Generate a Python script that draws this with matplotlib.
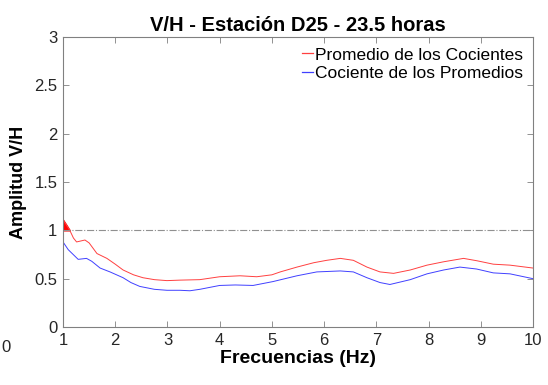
import matplotlib.pyplot as plt
import numpy as np

plt.rcParams['font.family'] = ['Liberation Sans', 'DejaVu Sans']

f_prom = [1.0, 1.06, 1.13, 1.2, 1.26, 1.42, 1.5, 1.65, 1.84, 2.0, 2.15, 2.35, 2.53, 2.75, 2.99, 3.24, 3.62,
          4.0, 4.39, 4.71, 5.0, 5.16, 5.48, 5.8, 6.05, 6.31, 6.56, 6.82, 7.07, 7.33, 7.65, 7.97,
          8.29, 8.67, 8.93, 9.24, 9.56, 10.0]
promedio_cocientes = [1.11, 1.06, 1.0, 0.92, 0.88, 0.90, 0.87, 0.76, 0.71, 0.65, 0.59, 0.54, 0.51, 0.49, 0.48, 0.485, 0.49,
                      0.52, 0.53, 0.52, 0.54, 0.57, 0.62, 0.665, 0.69, 0.71, 0.69, 0.62, 0.57, 0.555, 0.59, 0.64,
                      0.675, 0.71, 0.685, 0.65, 0.64, 0.61]

f_coc = [1.0, 1.1, 1.29, 1.45, 1.55, 1.71, 1.9, 2.15, 2.3, 2.47, 2.75, 2.99, 3.24, 3.43, 3.62,
         4.0, 4.3, 4.64, 5.02, 5.48, 5.86, 6.31, 6.56, 6.82, 7.07, 7.26, 7.65, 7.97,
         8.29, 8.6, 8.92, 9.24, 9.56, 10.0]
cociente_promedios = [0.88, 0.80, 0.70, 0.71, 0.68, 0.61, 0.57, 0.51, 0.46, 0.42, 0.39, 0.38, 0.38, 0.375, 0.39,
                      0.43, 0.435, 0.43, 0.47, 0.53, 0.57, 0.58, 0.57, 0.51, 0.46, 0.44, 0.49, 0.55,
                      0.59, 0.62, 0.60, 0.56, 0.55, 0.50]

fig = plt.figure(figsize=(5.48, 3.85), dpi=100)
ax = fig.add_axes([0.115, 0.1506, 0.8576, 0.7533])

l1, = ax.plot(f_prom, promedio_cocientes, color='#ff4040', lw=0.7)
l2, = ax.plot(f_coc, cociente_promedios, color='#4040ff', lw=0.7)
ax.axhline(1, color='#909090', lw=0.8, ls='-.')

fp = np.array(f_prom)
yp = np.array(promedio_cocientes)
ax.fill_between(fp, 1, yp, where=yp >= 1, color='red', interpolate=True)

ax.set_xlim(1, 10)
ax.set_ylim(0, 3)
ax.set_xticks(range(1, 11))
ax.set_yticks([0, 0.5, 1, 1.5, 2, 2.5, 3])
ax.set_yticklabels(['0', '0.5', '1', '1.5', '2', '2.5', '3'])
ax.tick_params(direction='in', length=4, width=0.6, color='#808080', labelsize=12,
               labelcolor='#262626', top=True, right=True, pad=4)
for s in ax.spines.values():
    s.set_color('#808080')
    s.set_linewidth(0.8)

# etiqueta 0 que queda fuera del eje
ax.text(-0.1, -0.045, '0', transform=ax.get_xaxis_transform(), ha='center', va='top',
        fontsize=12, color='#262626', clip_on=False)

ax.set_title('V/H - Estación D25 - 23.5 horas', fontsize=14.5, fontweight='bold', pad=4)
ax.set_xlabel('Frecuencias (Hz)', fontsize=14, fontweight='bold', labelpad=2)
ax.set_ylabel('Amplitud V/H', fontsize=13, fontweight='bold', labelpad=5)

leg = ax.legend([l1, l2], ['Promedio de los Cocientes', 'Cociente de los Promedios'],
                loc='upper right', frameon=False, fontsize=12.5, handlelength=0.6,
                handletextpad=0.1, borderaxespad=0.2, labelspacing=0.2)
for h in leg.legend_handles:
    h.set_linewidth(0.9)

plt.savefig('out.png', dpi=100)
